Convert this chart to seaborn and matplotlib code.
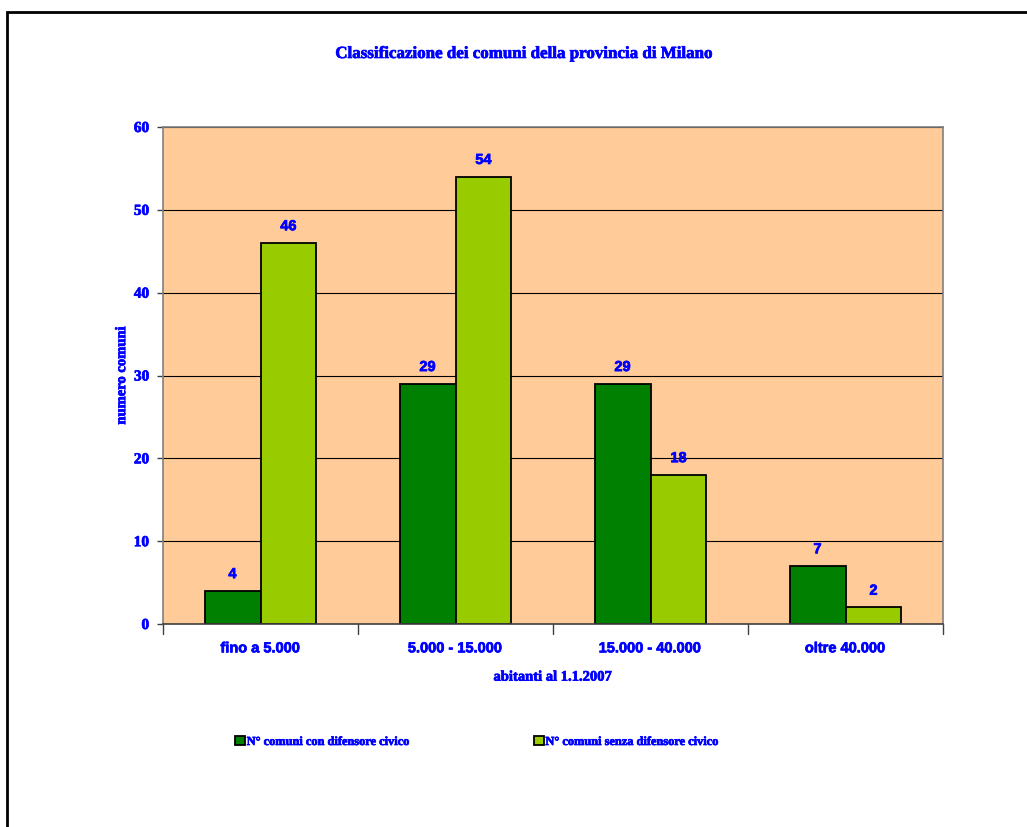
import matplotlib
matplotlib.use("Agg")
import matplotlib.pyplot as plt
import matplotlib.patheffects as pe
import numpy as np
import pandas as pd
import seaborn as sns

categories = ["fino a 5.000", "5.000 - 15.000", "15.000 - 40.000", "oltre 40.000"]
series_names = ["N° comuni con difensore civico", "N° comuni senza difensore civico"]
con_difensore = [4, 29, 29, 7]
senza_difensore = [46, 54, 18, 2]
y_ticks = [0, 10, 20, 30, 40, 50, 60]

df = pd.DataFrame({
    "fascia": categories * 2,
    "serie": [series_names[0]] * 4 + [series_names[1]] * 4,
    "valore": con_difensore + senza_difensore,
})

sns.set_style("white")
blue = "#0000FF"
serif = "Liberation Serif"
sans = "Liberation Sans"
# a thin stroke of the same colour to thicken the bold a bit
fat = [pe.withStroke(linewidth=0.5, foreground=blue)]

W, H = 1027, 827
fig = plt.figure(figsize=(W / 100, H / 100), dpi=100)

# outer frame of the chart area
fig.patches.append(plt.Rectangle((7 / W, -0.1), 1.2, (H - 12) / H + 0.1,
                                 transform=fig.transFigure, fill=False,
                                 edgecolor="black", linewidth=2))

ax = fig.add_axes([163 / W, (H - 624) / H, 780 / W, 497 / H])
ax.set_facecolor("#FFCC99")

sns.barplot(data=df, x="fascia", y="valore", hue="serie", ax=ax,
            palette=["#008000", "#99CC00"], width=0.574, gap=0,
            edgecolor="black", linewidth=1.3, saturation=1, legend=True)

ax.set_ylim(0, 60)
ax.set_xlim(-0.5, 3.5)
ax.yaxis.grid(True, color="black", linewidth=0.8)
ax.set_axisbelow(True)

for sp in ax.spines.values():
    sp.set_color("#808080")
    sp.set_linewidth(1.2)
ax.spines["bottom"].set_color("#404040")

ax.tick_params(axis="y", which="both", left=True, length=4, width=1, color="#404040",
               pad=6)
ax.set_yticks(y_ticks)
ax.set_yticklabels([str(v) for v in y_ticks], fontfamily=serif, fontweight="bold",
                   fontsize=11, color=blue, path_effects=fat)
ax.set_xticks([0, 1, 2, 3])
ax.set_xticklabels(categories, fontfamily=sans, fontweight="bold", fontsize=10.5,
                   color=blue, path_effects=fat)
ax.tick_params(axis="x", bottom=False, pad=9)
for xb in [-0.5, 0.5, 1.5, 2.5, 3.5]:
    ax.plot([xb, xb], [0, -1.2], color="#404040", linewidth=1, clip_on=False)

for cont in ax.containers:
    ax.bar_label(cont, padding=7, fontfamily=sans, fontweight="bold", fontsize=10.5,
                 color=blue, path_effects=fat)

ax.set_xlabel("abitanti al 1.1.2007", fontfamily=serif, fontweight="bold",
              fontsize=10.5, color=blue, labelpad=11, path_effects=fat)
ax.set_ylabel("numero comuni", fontfamily=serif, fontweight="bold",
              fontsize=10.5, color=blue, labelpad=4, path_effects=fat)

fig.text(523 / W, 1 - 54 / H, "Classificazione dei comuni della provincia di Milano",
         ha="center", va="center", fontfamily=serif, fontweight="bold",
         fontsize=12.2, color=blue, path_effects=fat)

handles, labels = ax.get_legend_handles_labels()
ax.legend_.remove()
leg = fig.legend(handles, labels, loc="center", bbox_to_anchor=(477 / W, 1 - 742 / H),
                 ncol=2, frameon=False, columnspacing=10, handlelength=0.8,
                 handleheight=0.8, handletextpad=0.15,
                 prop={"family": serif, "weight": "bold", "size": 8.9},
                 labelcolor=blue)
for t in leg.get_texts():
    t.set_path_effects(fat)

fig.savefig("out.png", dpi=100)
